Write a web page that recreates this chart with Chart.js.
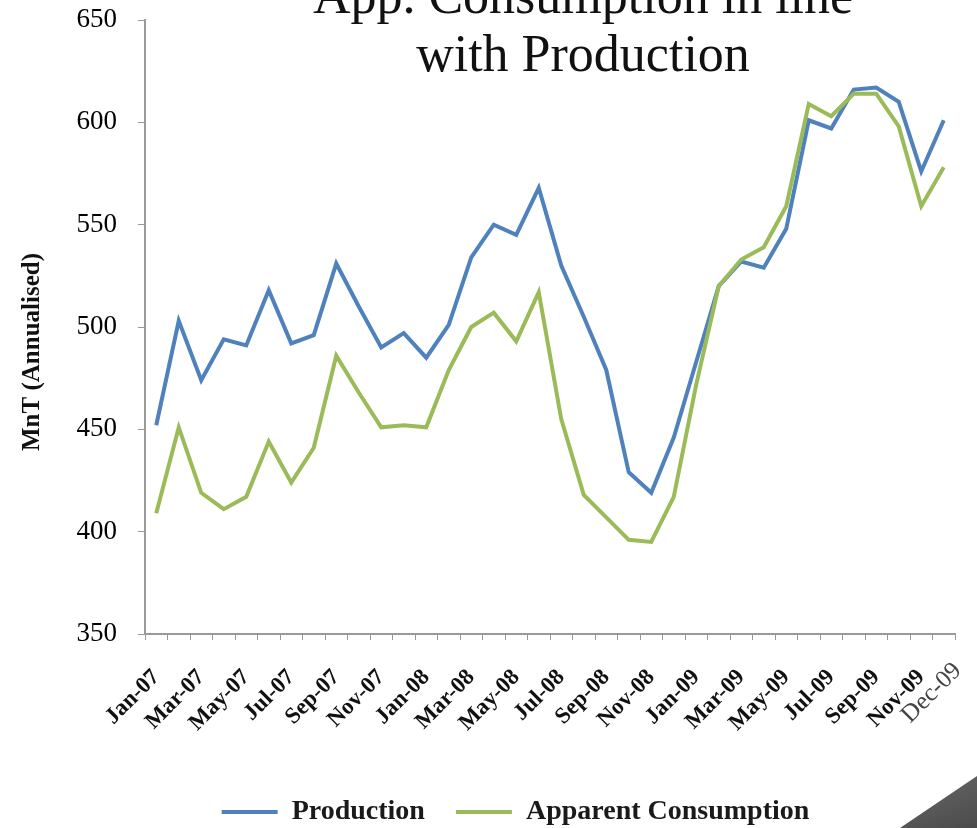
<!DOCTYPE html>
<html>
<head>
<meta charset="utf-8">
<title>App. Consumption in line with Production</title>
<script src="https://cdn.jsdelivr.net/npm/chart.js@4.4.1/dist/chart.umd.min.js"></script>
<style>
  html, body { margin: 0; padding: 0; background: #fff; }
  #wrap { position: relative; width: 977px; height: 828px; overflow: hidden; }
  #corner {
    position: absolute; left: 0; top: 0; width: 977px; height: 828px;
    background: linear-gradient(160deg, #8c8c8c 85%, #4b4b4b 100%);
    clip-path: polygon(900px 828px, 977px 776px, 977px 828px);
  }
</style>
</head>
<body>
<div id="wrap">
  <canvas id="lineChart" width="977" height="828"></canvas>
  <div id="corner"></div>
</div>
<script>
// Monthly series, Jan-07 .. Dec-09
const months = ['Jan-07', 'Feb-07', 'Mar-07', 'Apr-07', 'May-07', 'Jun-07', 'Jul-07', 'Aug-07', 'Sep-07', 'Oct-07', 'Nov-07', 'Dec-07',
                'Jan-08', 'Feb-08', 'Mar-08', 'Apr-08', 'May-08', 'Jun-08', 'Jul-08', 'Aug-08', 'Sep-08', 'Oct-08', 'Nov-08', 'Dec-08',
                'Jan-09', 'Feb-09', 'Mar-09', 'Apr-09', 'May-09', 'Jun-09', 'Jul-09', 'Aug-09', 'Sep-09', 'Oct-09', 'Nov-09', 'Dec-09'];

const production = [452, 503, 474, 494, 491, 518, 492, 496, 531, 510, 490, 497,
                    485, 501, 534, 550, 545, 568, 530, 505, 479, 429, 419, 446,
                    483, 520, 532, 529, 548, 601, 597, 616, 617, 610, 576, 601];

const consumption = [409, 451, 419, 411, 417, 444, 424, 441, 486, 468, 451, 452,
                     451, 479, 500, 507, 493, 517, 455, 418, 407, 396, 395, 417,
                     472, 520, 533, 539, 559, 609, 603, 614, 614, 598, 559, 578];

const yMin = 350;
const yMax = 650;
const yStep = 50;

const titleLines = ['App. Consumption in line', 'with Production'];
const yTitle = 'MnT (Annualised)';

const serif = "'Liberation Serif', 'Times New Roman', serif";
const last = months.length - 1;

// titre, libellé de l'axe Y et dernier mois (Dec-09) dessinés à la main
const titlePlugin = {
    id: 'titles',
    afterDraw(chart) {
        const ctx = chart.ctx;
        ctx.save();
        ctx.fillStyle = '#111';
        ctx.textAlign = 'center';
        ctx.textBaseline = 'alphabetic';
        ctx.font = '52px ' + serif;
        ctx.fillText(titleLines[0], 583, 13);
        ctx.fillText(titleLines[1], 583, 71);
        ctx.restore();

        ctx.save();
        ctx.translate(33, 352);
        ctx.rotate(-Math.PI / 2);
        ctx.fillStyle = '#111';
        ctx.textAlign = 'center';
        ctx.textBaseline = 'middle';
        ctx.font = 'bold 25px ' + serif;
        ctx.fillText(yTitle, 0, 0);
        ctx.restore();

        const x = chart.scales.x;
        ctx.save();
        ctx.translate(x.getPixelForTick(last) + 14, x.top + 33);
        ctx.rotate(-Math.PI / 4);
        ctx.fillStyle = '#444';
        ctx.textAlign = 'right';
        ctx.textBaseline = 'middle';
        ctx.font = '25px ' + serif;
        ctx.fillText(months[last], 0, 0);
        ctx.restore();
    }
};

// décale la légende sous le graphique
const legendShift = {
    id: 'legendShift',
    afterLayout(chart) {
        const lg = chart.legend;
        lg.left += 38; lg.right += 38;
        lg.top += 8; lg.bottom += 8;
    }
};

const lineConfig = {
    type: 'line',
    data: {
        labels: months,
        datasets: [{
            label: 'Production',
            data: production,
            borderColor: '#4F81BD',
            backgroundColor: '#4F81BD',
            borderWidth: 4,
            pointRadius: 0,
            tension: 0,
            fill: false,
            order: 1
        }, {
            label: 'Apparent Consumption',
            data: consumption,
            borderColor: '#9BBB59',
            backgroundColor: '#9BBB59',
            borderWidth: 4,
            pointRadius: 0,
            tension: 0,
            fill: false,
            order: 0
        }]
    },
    options: {
        responsive: false,
        animation: false,
        layout: { padding: { top: 20, right: 22, left: 0, bottom: 0 } },
        scales: {
            x: {
                offset: true,
                afterFit: s => { s.height = 125; s.paddingLeft = 0; s.paddingRight = 0; },
                grid: { offset: true, drawOnChartArea: false, drawTicks: true, tickLength: 6, color: '#9a9a9a' },
                border: { color: '#9a9a9a', width: 2 },
                ticks: {
                    autoSkip: false,
                    minRotation: 45,
                    maxRotation: 45,
                    padding: 24,
                    color: '#111',
                    font: { family: serif, size: 23, weight: 'bold' },
                    callback: (value, index) => (index % 2 === 0 && index !== last) ? months[index] : ''
                }
            },
            y: {
                min: yMin,
                max: yMax,
                afterFit: s => { s.width = 145; s.paddingTop = 0; s.paddingBottom = 0; },
                grid: { drawOnChartArea: false, drawTicks: true, tickLength: 7, color: '#9a9a9a' },
                border: { color: '#9a9a9a', width: 2 },
                ticks: {
                    stepSize: yStep,
                    padding: 21,
                    color: '#000',
                    font: { family: serif, size: 27 }
                }
            }
        },
        plugins: {
            title: { display: false },
            tooltip: { enabled: false },
            legend: {
                display: true,
                position: 'bottom',
                labels: {
                    boxWidth: 56,
                    boxHeight: 4,
                    padding: 31,
                    color: '#1a1a1a',
                    font: { family: serif, size: 28, weight: 'bold' },
                    sort: (a, b) => a.datasetIndex - b.datasetIndex,
                    generateLabels: chart => Chart.defaults.plugins.legend.labels.generateLabels(chart)
                        .map(item => Object.assign(item, { fillStyle: item.strokeStyle, lineWidth: 0 }))
                }
            }
        }
    },
    plugins: [titlePlugin, legendShift]
};

const lineChart = new Chart(document.getElementById('lineChart'), lineConfig);
</script>
</body>
</html>
